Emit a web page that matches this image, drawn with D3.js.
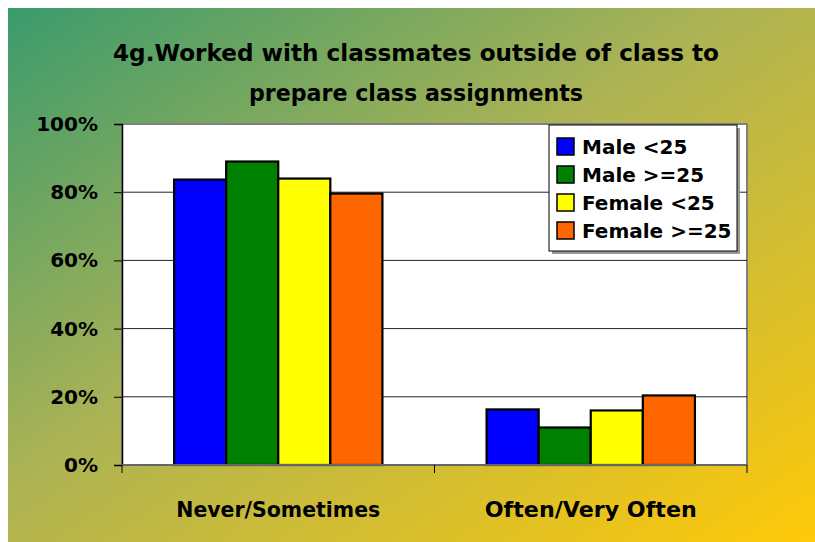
<!DOCTYPE html>
<html>
<head>
<meta charset="utf-8">
<script src="https://cdn.jsdelivr.net/npm/d3@7"></script>
<style>
	body { margin: 0; background: #fff; }
	text { font-family: "Comic Sans MS", "DejaVu Sans", sans-serif; font-weight: bold; fill: #000; }
</style>
</head>
<body>
<main></main>
<script>
// DATA
const categories = ["Never/Sometimes", "Often/Very Often"];
const seriesNames = ["Male <25", "Male >=25", "Female <25", "Female >=25"];
const maleUnder25 = [83.7, 16.3];
const maleOver25 = [89.0, 11.0];
const femaleUnder25 = [84.0, 16.0];
const femaleOver25 = [79.6, 20.4];
const yTicks = [0, 20, 40, 60, 80, 100];
const titleLines = ["4g.Worked with classmates outside of class to", "prepare class assignments"];

const seriesValues = [maleUnder25, maleOver25, femaleUnder25, femaleOver25];
const colors = ["#0000ff", "#008000", "#ffff00", "#ff6600"];

// CHART
function drawChart() {
	const w = 815;
	const h = 542;
	const plot = { left: 122, right: 747, top: 124, bottom: 465 };

	const svg = d3.select("main").append("svg")
		.attr("width", w)
		.attr("height", h);

	// background gradient
	const grad = svg.append("defs").append("linearGradient")
		.attr("id", "bg")
		.attr("x1", "0%").attr("y1", "0%")
		.attr("x2", "100%").attr("y2", "100%");
	grad.append("stop").attr("offset", "0%").attr("stop-color", "#3a9b6d");
	grad.append("stop").attr("offset", "45%").attr("stop-color", "#adb354");
	grad.append("stop").attr("offset", "100%").attr("stop-color", "#ffc908");

	svg.append("rect")
		.attr("x", 8).attr("y", 8)
		.attr("width", w - 8).attr("height", h - 8)
		.attr("fill", "url(#bg)");

	// title
	svg.selectAll(".title")
		.data(titleLines)
		.enter()
		.append("text")
			.attr("class", "title")
			.attr("x", 416)
			.attr("y", (d, i) => 61 + i * 40)
			.attr("text-anchor", "middle")
			.attr("font-size", 23)
			.attr("textLength", (d, i) => i === 0 ? 606 : 334)
			.attr("lengthAdjust", "spacingAndGlyphs")
			.text(d => d);

	// scales
	const xScale = d3.scaleBand()
		.domain(categories)
		.range([plot.left, plot.right]);
	const bw = xScale.bandwidth();
	const xInner = d3.scaleBand()
		.domain(seriesNames)
		.range([bw / 6, bw * 5 / 6]);
	const yScale = d3.scaleLinear()
		.domain([0, 100])
		.range([plot.bottom, plot.top]);

	// plot area
	svg.append("rect")
		.attr("x", plot.left).attr("y", plot.top)
		.attr("width", plot.right - plot.left)
		.attr("height", plot.bottom - plot.top)
		.attr("fill", "#fff")
		.attr("stroke", "#808080")
		.attr("stroke-width", 2);

	// gridlines
	svg.selectAll(".grid")
		.data(yTicks.slice(1, -1))
		.enter()
		.append("line")
			.attr("x1", plot.left).attr("x2", plot.right)
			.attr("y1", d => yScale(d)).attr("y2", d => yScale(d))
			.attr("stroke", "#222")
			.attr("stroke-width", 1);

	// bars
	const groups = svg.selectAll(".series")
		.data(seriesNames)
		.enter()
		.append("g")
			.attr("fill", (d, i) => colors[i]);
	groups.selectAll("rect")
		.data((d, i) => seriesValues[i].map((v, j) => ({ name: d, cat: categories[j], v })))
		.enter()
		.append("rect")
			.attr("x", d => xScale(d.cat) + xInner(d.name))
			.attr("y", d => yScale(d.v))
			.attr("width", xInner.bandwidth())
			.attr("height", d => yScale(0) - yScale(d.v))
			.attr("stroke", "#000")
			.attr("stroke-width", 2.2);

	// y axis
	const yAxis = d3.axisLeft(yScale)
		.tickValues(yTicks)
		.tickFormat(d => d + "%")
		.tickSize(8)
		.tickPadding(16);
	const gy = svg.append("g")
		.attr("transform", `translate(${plot.left}, 0)`)
		.call(yAxis);
	gy.select(".domain").attr("stroke", "#000").attr("stroke-width", 1.5);
	gy.selectAll(".tick line").attr("stroke", "#000");
	gy.selectAll(".tick text")
		.attr("font-size", 20)
		.attr("font-family", null)
		.attr("fill", "#000");

	// x axis line and boundary ticks
	svg.append("line")
		.attr("x1", plot.left).attr("x2", plot.right)
		.attr("y1", plot.bottom).attr("y2", plot.bottom)
		.attr("stroke", "#666")
		.attr("stroke-width", 2);
	const bounds = categories.map(c => xScale(c)).concat([plot.right]);
	svg.selectAll(".xtick")
		.data(bounds)
		.enter()
		.append("line")
			.attr("x1", d => d).attr("x2", d => d)
			.attr("y1", plot.bottom).attr("y2", plot.bottom + 8)
			.attr("stroke", "#000");
	svg.selectAll(".xlabel")
		.data(categories)
		.enter()
		.append("text")
			.attr("x", d => xScale(d) + bw / 2)
			.attr("y", 517)
			.attr("text-anchor", "middle")
			.attr("font-size", 21)
			.attr("textLength", (d, i) => i === 0 ? 204 : 212)
			.attr("lengthAdjust", "spacingAndGlyphs")
			.text(d => d);

	// legend
	const lg = svg.append("g").attr("transform", "translate(549, 125)");
	lg.append("rect")
		.attr("x", 3).attr("y", 3)
		.attr("width", 188).attr("height", 126)
		.attr("fill", "#999");
	lg.append("rect")
		.attr("width", 188).attr("height", 126)
		.attr("fill", "#fff")
		.attr("stroke", "#000")
		.attr("stroke-width", 1);
	const items = lg.selectAll(".item")
		.data(seriesNames)
		.enter()
		.append("g")
			.attr("transform", (d, i) => `translate(8, ${13 + i * 28})`);
	items.append("rect")
		.attr("width", 17).attr("height", 17)
		.attr("fill", (d, i) => colors[i])
		.attr("stroke", "#000")
		.attr("stroke-width", 1.5);
	items.append("text")
		.attr("x", 25)
		.attr("y", 16)
		.attr("font-size", 20)
		.text(d => d);
}

document.addEventListener("DOMContentLoaded", () => {
	drawChart();
});
</script>
</body>
</html>
